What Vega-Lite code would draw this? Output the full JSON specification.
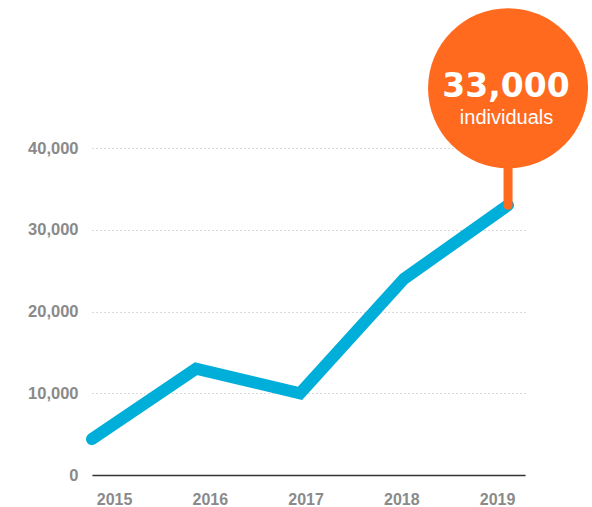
{
  "$schema": "https://vega.github.io/schema/vega-lite/v6.json",
  "width": 433,
  "height": 327,
  "autosize": {"type": "none"},
  "padding": {"left": 92, "top": 148, "right": 67, "bottom": 32},
  "background": "#ffffff",
  "config": {"view": {"stroke": null}},
  "datasets": {
    "series": [
      {"year": 2015, "value": 4400},
      {"year": 2016, "value": 13000},
      {"year": 2017, "value": 10000},
      {"year": 2018, "value": 24000},
      {"year": 2019, "value": 33000}
    ],
    "callout": [
      {"year": 2019, "value": 33000, "top": 39000, "label": "33,000", "sub": "individuals"}
    ]
  },
  "resolve": {"scale": {"x": "independent"}, "axis": {"x": "independent"}},
  "layer": [
    {
      "data": {"name": "series"},
      "mark": {"type": "point", "opacity": 0},
      "encoding": {
        "x": {
          "field": "year",
          "type": "quantitative",
          "scale": {"domain": [2014.77, 2019.292], "nice": false, "zero": false},
          "axis": {
            "orient": "bottom",
            "values": [2015, 2016, 2017, 2018, 2019],
            "format": "d",
            "title": null,
            "grid": false,
            "ticks": false,
            "domain": true,
            "domainColor": "#333333",
            "domainWidth": 1.5,
            "labelPadding": 16,
            "labelFont": "Liberation Sans",
            "labelFontWeight": "bold",
            "labelFontSize": 16,
            "labelColor": "#8a8a8a"
          }
        },
        "y": {
          "field": "value",
          "type": "quantitative",
          "scale": {"domain": [0, 40000], "nice": false},
          "axis": {
            "values": [0, 10000, 20000, 30000, 40000],
            "format": ",d",
            "title": null,
            "grid": true,
            "gridDash": [1, 3],
            "gridColor": "#b5b5b5",
            "gridWidth": 1,
            "domain": false,
            "ticks": false,
            "labelPadding": 14,
            "labelFont": "Liberation Sans",
            "labelFontWeight": "bold",
            "labelFontSize": 16.5,
            "labelColor": "#8a8a8a"
          }
        }
      }
    },
    {
      "layer": [
        {
          "data": {"name": "series"},
          "mark": {"type": "line", "color": "#00AEDA", "strokeWidth": 12, "strokeCap": "round", "strokeJoin": "miter"},
          "encoding": {
            "x": {"field": "year", "type": "quantitative", "scale": {"domain": [2015, 2019.163], "nice": false, "zero": false}, "axis": null},
            "y": {"field": "value", "type": "quantitative"}
          }
        },
        {
          "data": {"name": "callout"},
          "mark": {"type": "rule", "color": "#FF6A1F", "strokeWidth": 9, "strokeCap": "round"},
          "encoding": {
            "x": {"field": "year", "type": "quantitative"},
            "y": {"field": "value", "type": "quantitative"},
            "y2": {"field": "top"}
          }
        },
        {
          "data": {"name": "callout"},
          "mark": {"type": "point", "shape": "circle", "filled": true, "color": "#FF6A1F", "opacity": 1, "size": 25600, "yOffset": -117, "clip": false},
          "encoding": {
            "x": {"field": "year", "type": "quantitative"},
            "y": {"field": "value", "type": "quantitative"}
          }
        },
        {
          "data": {"name": "callout"},
          "mark": {"type": "text", "color": "#ffffff", "font": "DejaVu Sans", "fontWeight": "bold", "fontSize": 33, "align": "center", "baseline": "alphabetic", "yOffset": -108.5, "dx": -2},
          "encoding": {
            "x": {"field": "year", "type": "quantitative"},
            "y": {"field": "value", "type": "quantitative"},
            "text": {"field": "label"}
          }
        },
        {
          "data": {"name": "callout"},
          "mark": {"type": "text", "color": "#ffffff", "font": "Liberation Sans", "fontSize": 20, "align": "center", "baseline": "alphabetic", "yOffset": -81, "dx": -1.5},
          "encoding": {
            "x": {"field": "year", "type": "quantitative"},
            "y": {"field": "value", "type": "quantitative"},
            "text": {"field": "sub"}
          }
        }
      ]
    }
  ]
}
